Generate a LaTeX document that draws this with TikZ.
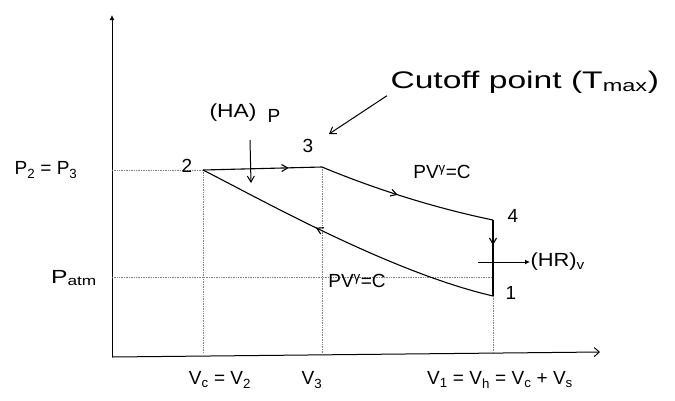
\documentclass[tikz,border=0pt]{standalone}
\usepackage{fontspec}
\setmainfont{Liberation Sans}
\usetikzlibrary{arrows.meta,decorations.markings}
\begin{document}
\begin{tikzpicture}[x=1pt,y=-1pt,line width=1pt,
  lbl/.style={font=\fontsize{19}{19}\selectfont,inner sep=0pt},
  big/.style={font=\fontsize{24}{24}\selectfont,inner sep=0pt},
  guide/.style={densely dotted,gray,line width=0.7pt},
  proc/.style={line width=1.1pt},
  midarr/.style={postaction={decorate},decoration={markings,mark=at position #1 with {\arrow{Straight Barb[length=6pt,width=7pt]}}}}]
\useasboundingbox (0,0) rectangle (675,400);
% axes
\coordinate (O) at (112,357);
\coordinate (ytop) at (112,15);
\coordinate (xend) at (600,352);
\draw[-{Latex[length=5pt,width=5pt]}] (O) -- (ytop);
\draw[-{Straight Barb[length=5pt,width=9pt]}] (O) -- (xend);
% state points
\coordinate (p2) at (203,170);
\coordinate (p3) at (322,167);
\coordinate (p4) at (493,220);
\coordinate (p1) at (493,296);
% guides
\coordinate (g2) at (203,353);
\coordinate (g3) at (322,353);
\coordinate (g1) at (493,353);
\coordinate (hp) at (112,170);
\coordinate (ha) at (112,277);
\coordinate (hb) at (493,277);
\draw[guide] (p2) -- (g2);
\draw[guide] (p3) -- (g3);
\draw[guide] (p1) -- (g1);
\draw[guide] (hp) -- (p2);
\draw[guide] (ha) -- (hb);
% processes
\draw[proc,midarr=0.72] (p2) -- (p3);
\draw[proc,midarr=0.45] (p3) .. controls (370,187) and (430,207) .. (p4);
\draw[proc,midarr=0.33] (p4) -- (p1);
\draw[proc,midarr=0.6] (p1) .. controls (390,272) and (262,200) .. (p2);
% point labels
\node[lbl] (n2) at (187,166) {2};
\node[lbl] (n3) at (308,146) {3};
\node[lbl] (n4) at (513,216) {4};
\node[lbl] (n1) at (511,293) {1};
% heat addition
\node[lbl,anchor=west] (ha1) at (209,113) {\scalebox{1.2}[1]{(HA)}};
\node[lbl] (haP) at (274,116) {P};
\coordinate (has) at (250,140);
\coordinate (hae) at (251,183);
\draw[-{Straight Barb[length=6pt,width=7pt]}] (has) -- (hae);
% heat rejection
\coordinate (hrs) at (478,262);
\node[lbl,anchor=west] (hr) at (530,262) {\scalebox{1.15}[1]{(HR)\textsubscript{v}}};
\draw[-{Latex[length=5pt,width=5pt]}] (hrs) -- (hr.west);
% cutoff
\node[big,anchor=west] (cut) at (390,82) {\scalebox{1.4}[1]{Cutoff point (T\textsubscript{max})}};
\coordinate (cute) at (329,134);
\draw[-{Straight Barb[length=6pt,width=8pt]}] (cut.south west) ++(-3,2) coordinate (cuts) -- (cute);
% process labels
\node[lbl] (pv1) at (442,172) {PV\textsuperscript{γ}=C};
\node[lbl] (pv2) at (357,281) {PV\textsuperscript{γ}=C};
% axis labels
\node[lbl] (pp) at (46,170) {P\textsubscript{2} = P\textsubscript{3}};
\node[lbl] (patm) at (74,278) {\scalebox{1.3}[1]{P\textsubscript{atm}}};
\node[lbl] (vc) at (220,380) {V\textsubscript{c} = V\textsubscript{2}};
\node[lbl] (v3) at (312,380) {V\textsubscript{3}};
\node[lbl] (v1) at (500,380) {V\textsubscript{1} = V\textsubscript{h} = V\textsubscript{c} + V\textsubscript{s}};
\end{tikzpicture}
\end{document}
